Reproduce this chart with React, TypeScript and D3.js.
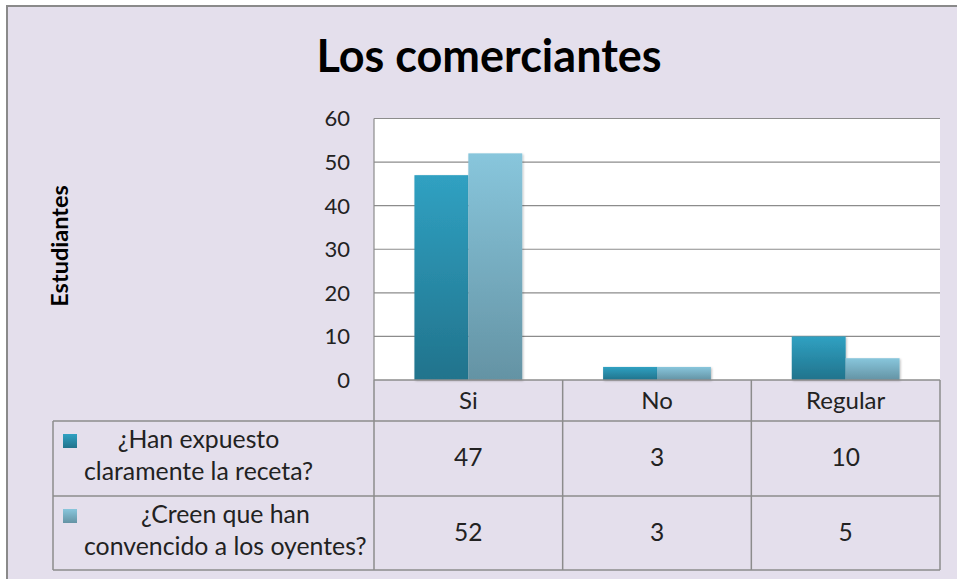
import React, { useEffect, useRef } from 'react';
import * as d3 from 'd3';

const title = 'Los comerciantes';
const yTitle = 'Estudiantes';
const categories = ['Si', 'No', 'Regular'];
const seriesLabelLines = [
  ['¿Han expuesto', 'claramente la receta?'],
  ['¿Creen que han', 'convencido a los oyentes?'],
];
const seriesA = [47, 3, 10];
const seriesB = [52, 3, 5];
const yTicks = [0, 10, 20, 30, 40, 50, 60];

const W = 957;
const H = 579;
const FONT = 'Lato, "Open Sans", sans-serif';

export default function App() {
  const ref = useRef<SVGSVGElement | null>(null);

  useEffect(() => {
    const svg = d3.select(ref.current);
    svg.selectAll('*').remove();

    const seriesValues = [seriesA, seriesB];
    const grads = [
      ['#30A1C2', '#21738C'],
      ['#88C6DC', '#6493A4'],
    ];

    const defs = svg.append('defs');
    grads.forEach((g, i) => {
      const lg = defs.append('linearGradient').attr('id', `g${i}`).attr('x1', 0).attr('y1', 0).attr('x2', 0).attr('y2', 1);
      lg.append('stop').attr('offset', '0%').attr('stop-color', g[0]);
      lg.append('stop').attr('offset', '100%').attr('stop-color', g[1]);
    });
    const f = defs.append('filter').attr('id', 'sh').attr('x', '-10%').attr('y', '-10%').attr('width', '130%').attr('height', '130%');
    f.append('feDropShadow').attr('dx', 1).attr('dy', 1).attr('stdDeviation', 1).attr('flood-color', '#000').attr('flood-opacity', 0.25);

    // frame
    svg.append('rect').attr('x', 0).attr('y', 0).attr('width', W).attr('height', H).attr('fill', '#ffffff');
    svg.append('rect').attr('x', 7).attr('y', 6).attr('width', W + 20).attr('height', H + 20)
      .attr('fill', '#E4DFEC').attr('stroke', '#8A8A8A').attr('stroke-width', 2);

    const plotL = 374, plotR = 940, plotT = 118.5, plotB = 380;
    const y = d3.scaleLinear().domain([0, 60]).range([plotB, plotT]);
    const x = d3.scaleBand().domain(categories).range([plotL, plotR]).paddingInner(0).paddingOuter(0);
    const bw = x.bandwidth();
    const gap = 0.75;
    const groupW = bw / (1 + gap);
    const x1 = d3.scaleBand().domain(['0', '1']).range([0, groupW]).padding(0);

    // plot area
    svg.append('rect').attr('x', plotL).attr('y', plotT).attr('width', plotR - plotL).attr('height', plotB - plotT).attr('fill', '#ffffff');
    svg.append('g').selectAll('line').data(yTicks.filter(t => t > 0)).join('line')
      .attr('x1', plotL).attr('x2', plotR).attr('y1', d => y(d)).attr('y2', d => y(d))
      .attr('stroke', '#8C8C8C').attr('stroke-width', 1.2);
    svg.append('line').attr('x1', plotL).attr('x2', plotL).attr('y1', plotT).attr('y2', plotB).attr('stroke', '#8C8C8C').attr('stroke-width', 1.2);

    // y tick labels
    svg.append('g').selectAll('text').data(yTicks).join('text')
      .attr('x', 350).attr('y', d => y(d)).attr('dy', '0.36em').attr('text-anchor', 'end')
      .attr('font-family', FONT).attr('font-size', 22).attr('fill', '#222')
      .text(d => d3.format('d')(d));

    // bars
    seriesValues.forEach((vals, si) => {
      svg.append('g').selectAll('rect').data(vals).join('rect')
        .attr('x', (d, i) => (x(categories[i]) as number) + (bw - groupW) / 2 + (x1(String(si)) as number))
        .attr('width', x1.bandwidth())
        .attr('y', d => y(d))
        .attr('height', d => y(0) - y(d))
        .attr('fill', `url(#g${si})`)
        .attr('filter', 'url(#sh)');
    });

    // data table
    const rowTop = [plotB, 421, 496];
    const legendL = 53;
    const lineColor = '#8C8C8C';
    const tbl = svg.append('g');
    tbl.append('line').attr('x1', plotL).attr('x2', plotR).attr('y1', plotB).attr('y2', plotB).attr('stroke', lineColor).attr('stroke-width', 1.5);
    [421, 496, 570].forEach(yy => {
      tbl.append('line').attr('x1', legendL).attr('x2', plotR).attr('y1', yy).attr('y2', yy).attr('stroke', lineColor).attr('stroke-width', 1.5);
    });
    const vx = [plotL, ...categories.map(c => (x(c) as number) + bw)];
    vx.forEach(xx => {
      tbl.append('line').attr('x1', xx).attr('x2', xx).attr('y1', plotB).attr('y2', 570).attr('stroke', lineColor).attr('stroke-width', 1.5);
    });
    tbl.append('line').attr('x1', legendL).attr('x2', legendL).attr('y1', 421).attr('y2', 570).attr('stroke', lineColor).attr('stroke-width', 1.5);

    // category labels
    tbl.selectAll('text.cat').data(categories).join('text').attr('class', 'cat')
      .attr('x', d => (x(d) as number) + bw / 2).attr('y', 409).attr('text-anchor', 'middle')
      .attr('font-family', FONT).attr('font-size', 24).attr('fill', '#222').text(d => d);

    // values
    seriesValues.forEach((vals, si) => {
      tbl.append('g').selectAll('text').data(vals).join('text')
        .attr('x', (d, i) => (x(categories[i]) as number) + bw / 2)
        .attr('y', rowTop[si + 1] + 45)
        .attr('text-anchor', 'middle')
        .attr('font-family', FONT).attr('font-size', 24.5).attr('fill', '#222')
        .text(d => String(d));
    });

    // legend
    seriesLabelLines.forEach((lines, si) => {
      const top = rowTop[si + 1];
      tbl.append('rect').attr('x', 63).attr('y', top + 13).attr('width', 14).attr('height', 14).attr('fill', `url(#g${si})`);
      const blockL = 84;
      const texts = lines.map((ln, li) => tbl.append('text')
        .attr('y', top + 27 + li * 32)
        .attr('font-family', FONT).attr('font-size', 24.8).attr('fill', '#222')
        .attr('text-anchor', 'middle').text(ln));
      const widths = texts.map(t => (t.node() as SVGTextElement).getComputedTextLength());
      const maxW = Math.max(...widths);
      texts.forEach(t => t.attr('x', blockL + maxW / 2));
    });

    // titles
    svg.append('text').attr('x', 489).attr('y', 72).attr('text-anchor', 'middle')
      .attr('font-family', FONT).attr('font-weight', 700).attr('font-size', 45).attr('fill', '#000').text(title);
    svg.append('text').attr('transform', 'translate(68,246) rotate(-90)').attr('text-anchor', 'middle')
      .attr('font-family', FONT).attr('font-weight', 700).attr('font-size', 23.5).attr('fill', '#000').text(yTitle);
  }, []);

  return (
    <svg ref={ref} width={W} height={H} style={{ position: 'absolute', left: 0, top: 0, display: 'block' }} />
  );
}
